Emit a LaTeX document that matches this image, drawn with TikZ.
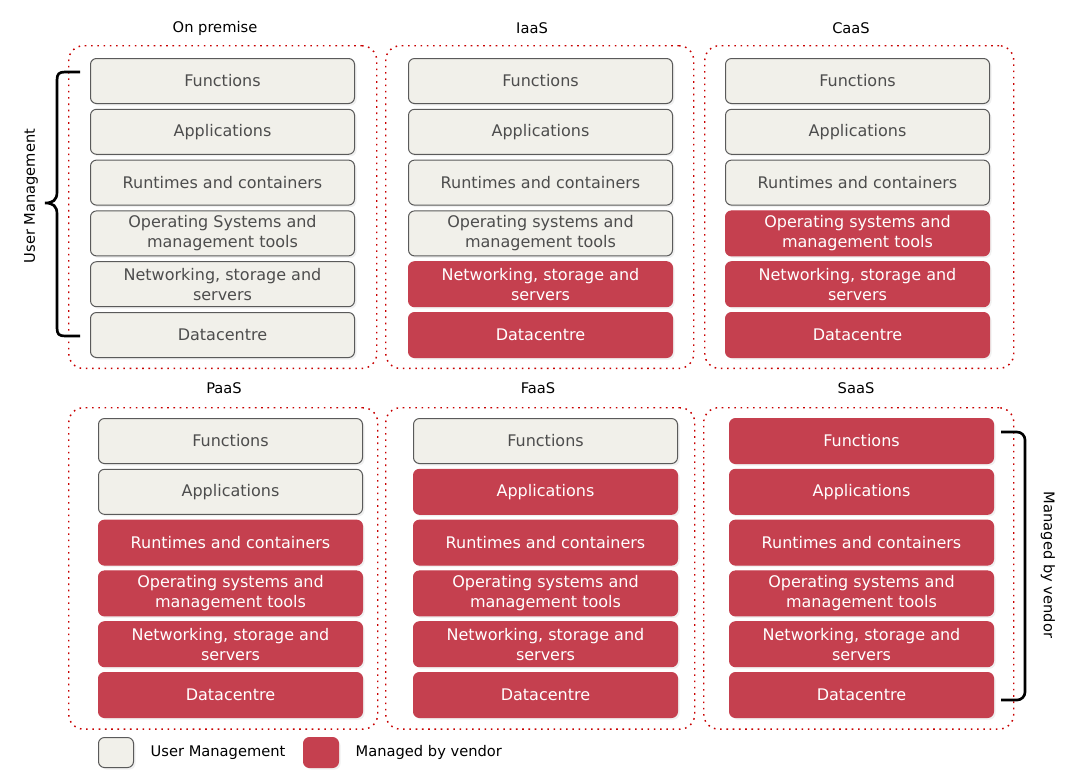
\documentclass[tikz,border=0pt]{standalone}
\usepackage{fontspec}
\setmainfont{DejaVu Sans}
\usepackage{tikz}
\usetikzlibrary{positioning,shadows}
\definecolor{vendRed}{HTML}{C5404F}
\definecolor{userGray}{HTML}{F1F0EA}
\definecolor{userLine}{HTML}{5A5A5A}
\definecolor{userText}{HTML}{4D4D4D}
\definecolor{dotRed}{HTML}{C80000}

\tikzset{
  layer/.style={rounded corners=4.5pt,minimum width=198pt,minimum height=33.75pt,anchor=north west,
    align=center,inner sep=0pt,line width=0.75pt,font=\fontsize{12}{15}\selectfont,
    drop shadow={shadow xshift=1.5pt,shadow yshift=-1.5pt,opacity=0.12}},
  usrbox/.style={layer,fill=userGray,draw=userLine,text=userText},
  vendbox/.style={layer,fill=vendRed,draw=vendRed,text=white},
  panel/.style={draw=dotRed,line width=1.1pt,dash pattern=on 1.2pt off 3.5pt,rounded corners=11pt,
    anchor=north west,inner sep=0pt},
  paneltitle/.style={font=\fontsize{11}{13}\selectfont},
  bracketline/.style={line width=2pt}
}

% #1 name, #2 left, #3 top, #4 layers kept by the user, #5 first line of the OS layer
\newcommand{\layerstack}[5]{%
  \foreach \txt [count=\i] in {Functions,Applications,Runtimes and containers,{#5\\management tools},{Networking, storage and\\servers},Datacentre}{
    \ifnum\i>#4 \def\sty{vendbox}\else\def\sty{usrbox}\fi
    \node[\sty] (#1-\i) at (#2,#3+\i*50.8-50.8) {\txt};
  }%
}

\begin{document}
\begin{tikzpicture}[x=0.75pt,y=-0.75pt]
  \useasboundingbox (0,0) rectangle (1080,783);

  \node[panel,minimum width=231pt,minimum height=242pt] (onprem) at (68,45) {};
  \node[panel,minimum width=231pt,minimum height=242pt] (iaas) at (385,45) {};
  \node[panel,minimum width=231.75pt,minimum height=242pt] (caas) at (704,45) {};
  \node[panel,minimum width=231.75pt,minimum height=241pt] (paas) at (68,407) {};
  \node[panel,minimum width=231.75pt,minimum height=241pt] (faas) at (385,407) {};
  \node[panel,minimum width=232.5pt,minimum height=241pt] (saas) at (703,407) {};

  \node[paneltitle] (onprem-t) at (215,28) {On premise};
  \node[paneltitle] (iaas-t) at (532,28) {IaaS};
  \node[paneltitle] (caas-t) at (851,28) {CaaS};
  \node[paneltitle] (paas-t) at (224,388) {PaaS};
  \node[paneltitle] (faas-t) at (538,388) {FaaS};
  \node[paneltitle] (saas-t) at (856,388) {SaaS};

  \layerstack{onprem}{90}{58}{6}{Operating Systems and}
  \layerstack{iaas}{408}{58}{4}{Operating systems and}
  \layerstack{caas}{725}{58}{3}{Operating systems and}
  \layerstack{paas}{98}{418}{2}{Operating systems and}
  \layerstack{faas}{413}{418}{1}{Operating systems and}
  \layerstack{saas}{729}{418}{0}{Operating systems and}

  % brace on the left, bracket on the right
  \coordinate (um-top) at (80,72);
  \coordinate (um-bot) at (80,336);
  \draw[bracketline] (um-top) -- (65,72) .. controls (59,72) and (57,74) .. (57,80) -- (57,192)
    .. controls (57,200) and (53,203) .. (45,203) .. controls (53,203) and (57,206) .. (57,214)
    -- (57,328) .. controls (57,334) and (59,336) .. (65,336) -- (um-bot);
  \node[paneltitle,rotate=90] (um-lbl) at (31,196) {User Management};

  \coordinate (mv-top) at (1001,432);
  \coordinate (mv-bot) at (1001,700);
  \draw[bracketline,rounded corners=6pt] (mv-top) -- (1025,432) -- (1025,700) -- (mv-bot);
  \node[paneltitle,rotate=-90] (mv-lbl) at (1048,565) {Managed by vendor};

  \node[usrbox,minimum width=26.25pt,minimum height=22.5pt] (leg-usr) at (98,737) {};
  \node[paneltitle,right=9pt of leg-usr] (leg-usr-t) {User Management};
  \node[vendbox,minimum width=26.25pt,minimum height=22.5pt] (leg-vend) at (303,737) {};
  \node[paneltitle,right=9pt of leg-vend] (leg-vend-t) {Managed by vendor};
\end{tikzpicture}
\end{document}
